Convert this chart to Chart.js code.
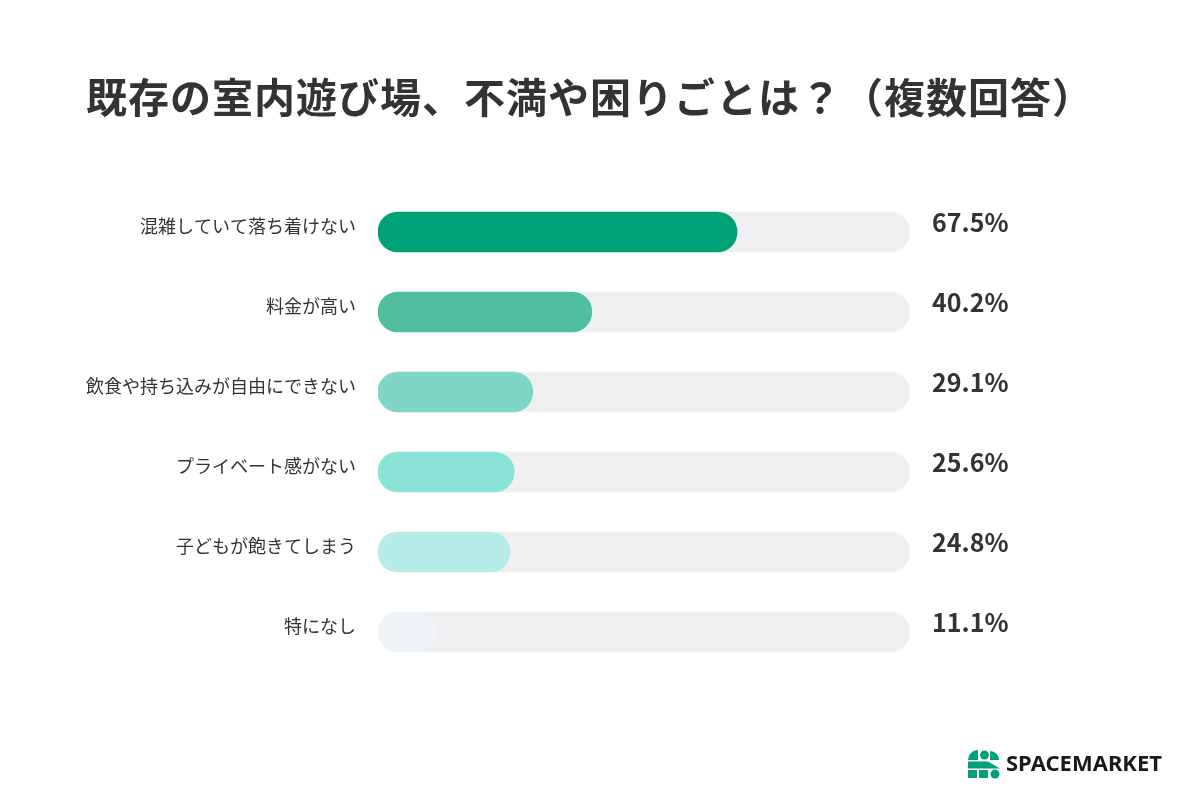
<!DOCTYPE html>
<html lang="ja">
<head>
<meta charset="utf-8">
<script src="https://cdn.jsdelivr.net/npm/chart.js@4"></script>
<style>
  html, body { margin: 0; padding: 0; background: #ffffff; }
  #wrap { width: 1200px; height: 800px; position: relative; }
</style>
</head>
<body>
<div id="wrap"><canvas id="chart1" width="1200" height="800"></canvas></div>
<script>
// データ
var chartTitle = "既存の室内遊び場、不満や困りごとは？（複数回答）";
var categories = ["混雑していて落ち着けない", "料金が高い", "飲食や持ち込みが自由にできない", "プライベート感がない", "子どもが飽きてしまう", "特になし"];
var values = [67.5, 40.2, 29.1, 25.6, 24.8, 11.1];
var trackValues = [100, 100, 100, 100, 100, 100];
var barColors = ["#00a176", "#4fbf9f", "#80d6c5", "#8be3d8", "#b6ece7", "#eef4f6"];

// title, labels, logo
const textPlugin = {
    id: "textPlugin",
    afterDraw(chart){
        const ctx = chart.ctx;
        const y = chart.scales.y;
        const x = chart.scales.x;
        ctx.save();
        // title
        ctx.fillStyle = "#333333";
        ctx.font = "bold 41px 'Noto Sans CJK JP'";
        ctx.letterSpacing = "1px";
        ctx.textAlign = "center";
        ctx.textBaseline = "middle";
        ctx.fillText(chartTitle, 590, 97);
        ctx.letterSpacing = "0px";

        // category labels + percent
        for (var i = 0; i < categories.length; i++) {
            var py = y.getPixelForValue(i);
            ctx.font = "18px 'Noto Sans CJK JP'";
            ctx.fillStyle = "#333333";
            ctx.textAlign = "right";
            ctx.fillText(categories[i], x.left - 22, py - 6);

            ctx.font = "bold 25px 'Noto Sans CJK JP'";
            ctx.fillStyle = "#333333";
            ctx.textAlign = "left";
            ctx.fillText(values[i].toFixed(1) + "%", x.right + 22, py - 10);
        }

        // logo
        ctx.fillStyle = "#00a176";
        ctx.beginPath(); ctx.moveTo(978, 760); ctx.arc(978, 760, 10, Math.PI, Math.PI * 1.5); ctx.closePath(); ctx.fill();
        ctx.beginPath(); ctx.arc(984.5, 755, 4.5, 0, Math.PI * 2); ctx.fill();
        ctx.beginPath(); ctx.moveTo(990, 760); ctx.arc(990, 760, 9, Math.PI * 1.5, Math.PI * 2); ctx.closePath(); ctx.fill();
        ctx.beginPath(); ctx.moveTo(968, 761.5); ctx.lineTo(988, 761.5); ctx.lineTo(1000, 768.5); ctx.lineTo(968, 768.5); ctx.closePath(); ctx.fill();
        ctx.fillRect(968, 770, 9, 8);
        ctx.fillRect(979, 770, 9, 8);
        ctx.beginPath(); ctx.arc(995, 774, 4.5, 0, Math.PI * 2); ctx.fill();
        ctx.fillStyle = "#1a1a1a";
        ctx.font = "bold 22px 'Noto Sans'";
        ctx.textAlign = "left";
        ctx.fillText("SPACEMARKET", 1006, 765);
        ctx.restore();
    }
};

var ctx = document.getElementById('chart1').getContext('2d');
const myChart = new Chart(ctx, {
    type: 'bar',
    data: {
        labels: categories,
        datasets: [{
            label: "value",
            data: values,
            backgroundColor: barColors,
            borderRadius: 20,
            borderSkipped: false,
            barThickness: 40,
            grouped: false,
            order: 1
        }, {
            label: "track",
            data: trackValues,
            backgroundColor: "#f0eff2",
            borderRadius: 20,
            borderSkipped: false,
            barThickness: 40,
            grouped: false,
            order: 2
        }]
    },
    options: {
        indexAxis: 'y',
        responsive: false,
        animation: false,
        layout: { padding: { left: 378, right: 290, top: 192, bottom: 128 } },
        plugins: { legend: { display: false }, tooltip: { enabled: false } },
        scales: {
            x: { display: false, min: 0, max: 100 },
            y: { display: false }
        }
    },
    plugins: [textPlugin]
});
</script>
</body>
</html>
